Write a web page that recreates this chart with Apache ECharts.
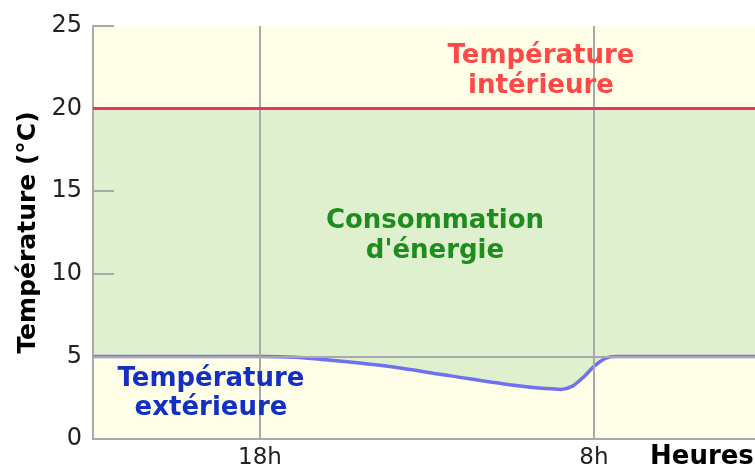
<!DOCTYPE html>
<html>
<head>
<meta charset="utf-8">
<script src="https://cdn.jsdelivr.net/npm/echarts@6/dist/echarts.min.js"></script>
<style>
  html, body { margin: 0; padding: 0; background: #fff; }
  #chart { width: 755px; height: 470px; }
</style>
</head>
<body>
<div id="chart"></div>
<script>
// heures (horloge continue, 32 = 8h le lendemain)
var hours = [11, 18, 19.5, 20.5, 23.2, 26, 28.8, 30, 30.6, 31.1, 31.6, 32, 32.5, 32.9, 38.75];
// température extérieure (°C)
var outdoor = [5, 5, 4.95, 4.83, 4.43, 3.82, 3.22, 3.05, 3.0, 3.2, 3.8, 4.4, 4.9, 5, 5];
var indoor = 20;
var hourTicks = [18, 32];
var yTicks = [0, 5, 10, 15, 20, 25];

var font = 'DejaVu Sans';

var outdoorData = hours.map(function (h, i) { return [h, outdoor[i]]; });
var indoorData = [[hours[0], indoor], [hours[hours.length - 1], indoor]];

var chart = echarts.init(document.getElementById('chart'));
chart.setOption({
  animation: false,
  grid: {
    left: 93, top: 26, right: 0, bottom: 30,
    show: true, backgroundColor: '#FFFFE8', borderWidth: 0
  },
  xAxis: {
    type: 'value',
    min: hours[0],
    max: hours[hours.length - 1],
    z: 10,
    axisLine: { lineStyle: { color: '#A8A8A8', width: 2 } },
    axisTick: { show: false },
    splitLine: { show: false },
    axisLabel: {
      customValues: hourTicks,
      formatter: function (v) { return (v % 24) + 'h'; },
      fontFamily: font, fontSize: 23, color: '#222', margin: 8
    }
  },
  yAxis: {
    type: 'value',
    min: yTicks[0], max: yTicks[yTicks.length - 1], interval: 5,
    z: 10,
    name: 'Température (°C)',
    nameLocation: 'middle',
    nameGap: 51,
    nameTextStyle: { fontFamily: font, fontSize: 25, fontWeight: 'bold', color: '#000' },
    axisLine: { show: true, lineStyle: { color: '#A8A8A8', width: 2 } },
    axisTick: { show: true, inside: true, length: 21, lineStyle: { color: '#A8A8A8', width: 2 } },
    splitLine: { show: false },
    axisLabel: { fontFamily: font, fontSize: 24, color: '#222', margin: 11 }
  },
  series: [
    {
      // zone consommation d'énergie (sous la température intérieure)
      type: 'line',
      data: indoorData,
      symbol: 'none',
      lineStyle: { width: 0 },
      areaStyle: { color: '#DFF0CE', opacity: 1 },
      z: 1
    },
    {
      // température extérieure
      type: 'line',
      data: outdoorData,
      symbol: 'none',
      smooth: 0.3,
      lineStyle: { color: '#7070F4', width: 3.5 },
      areaStyle: { color: '#FFFFE8', opacity: 1 },
      markLine: {
        silent: true,
        symbol: 'none',
        label: { show: false },
        lineStyle: { color: '#A8A8A8', width: 2, type: 'solid' },
        data: [{ xAxis: hourTicks[0] }, { xAxis: hourTicks[1] }, { yAxis: 5 }]
      },
      z: 2
    },
    {
      // température intérieure
      type: 'line',
      data: indoorData,
      symbol: 'none',
      lineStyle: { color: '#E8336A', width: 3 },
      z: 20
    }
  ],
  graphic: [
    {
      type: 'text', z: 100,
      style: {
        text: 'Température\nintérieure', x: 541, y: 41, textAlign: 'center',
        font: 'bold 26px "DejaVu Sans"', fill: '#FF4848', lineHeight: 30
      }
    },
    {
      type: 'text', z: 100,
      style: {
        text: 'Consommation\nd\'énergie', x: 435, y: 206, textAlign: 'center',
        font: 'bold 26px "DejaVu Sans"', fill: '#1E8C1E', lineHeight: 30
      }
    },
    {
      type: 'text', z: 100,
      style: {
        text: 'Température\nextérieure', x: 211, y: 365, textAlign: 'center',
        font: 'bold 26px "DejaVu Sans"', fill: '#1430C4', lineHeight: 29
      }
    },
    {
      type: 'text', z: 100,
      style: {
        text: 'Heures', x: 650, y: 444,
        font: 'bold 26px "DejaVu Sans"', fill: '#000'
      }
    }
  ]
});
</script>
</body>
</html>
